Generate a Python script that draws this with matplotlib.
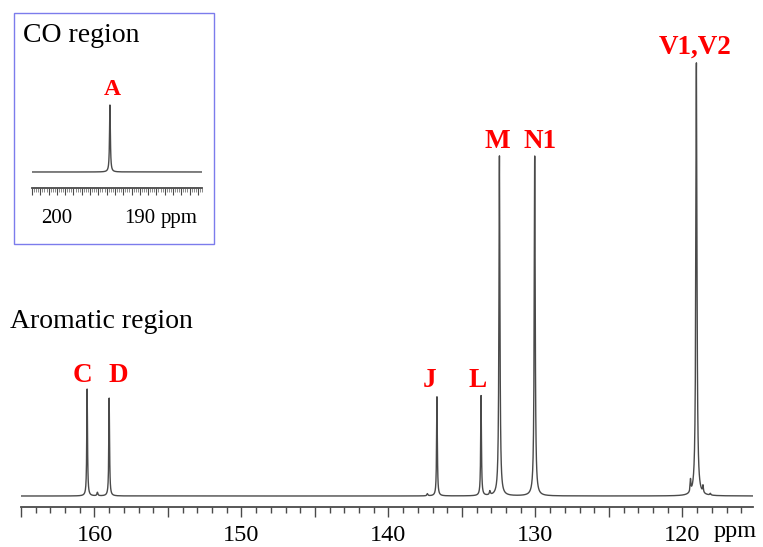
import numpy as np
import matplotlib
matplotlib.use("Agg")
import matplotlib.pyplot as plt
from matplotlib.ticker import MultipleLocator, FuncFormatter
from matplotlib.patches import Rectangle
import matplotlib.transforms as mtransforms

# --- aromatic region peaks (ppm, relative intensity, half width at half max in ppm)
arom_labels = ["C", "D", "J", "L", "M", "N1", "V1,V2"]
arom_shift = [160.5, 159.0, 136.7, 133.7, 132.45, 130.05, 119.05]
arom_height = [24.7, 22.6, 22.9, 23.1, 78.5, 78.5, 100.0]
arom_hwhm = [0.03, 0.03, 0.03, 0.03, 0.04, 0.04, 0.045]

# weaker unlabelled lines in the aromatic region
minor_shift = [159.8, 137.35, 133.1, 119.45, 118.6, 118.1]
minor_height = [0.8, 0.5, 0.9, 2.8, 1.6, 0.4]
minor_hwhm = [0.04, 0.04, 0.04, 0.03, 0.03, 0.04]

# --- carbonyl region
co_labels = ["A"]
co_shift = [193.6]
co_height = [100.0]
co_hwhm = [0.06]


def lorentz_sum(x, centers, heights, widths):
    y = np.zeros_like(x)
    for c, h, w in zip(centers, heights, widths):
        y += h / (1.0 + ((x - c) / w) ** 2)
    return y


LINE = "#4a4a4a"
RED = "#ff0000"
SERIF = ["Liberation Serif", "DejaVu Serif"]

fig = plt.figure(figsize=(7.63, 5.47), dpi=100)
W, H = 763, 547


def px_axes(x0, x1, ytop, ybot):
    return fig.add_axes([x0 / W, 1 - ybot / H, (x1 - x0) / W, (ybot - ytop) / H])


# ---------------- main spectrum ----------------
ax = px_axes(21, 753, 40, 507)
x_main = np.linspace(115.2, 165.0, 40000)
y_main = (lorentz_sum(x_main, arom_shift, arom_height, arom_hwhm)
          + lorentz_sum(x_main, minor_shift, minor_height, minor_hwhm))
ax.plot(x_main, y_main, color=LINE, lw=1.0)
ax.set_xlim(165.0, 115.2)
ax.set_ylim(-2.54, 105.3)

for s in ["top", "left", "right"]:
    ax.spines[s].set_visible(False)
ax.spines["bottom"].set_color(LINE)
ax.spines["bottom"].set_linewidth(1.3)
ax.set_yticks([])
ax.xaxis.set_major_locator(MultipleLocator(5))
ax.xaxis.set_minor_locator(MultipleLocator(1))
ax.xaxis.set_major_formatter(
    FuncFormatter(lambda v, p: f"{v:.0f}" if abs(v % 10) < 1e-6 else ""))
ax.tick_params(axis="x", which="major", length=7, width=1.0, color=LINE,
               pad=6, labelsize=17.5)
ax.tick_params(axis="x", which="minor", length=4, width=1.0, color=LINE)
for t in ax.get_xticklabels():
    t.set_fontfamily(SERIF)
ax.patch.set_alpha(0)

trans = mtransforms.blended_transform_factory(ax.transData, fig.transFigure)
fig.text(116.4, 1 - 531 / H, "ppm", transform=trans, ha="center", va="center",
         fontsize=17.5, family=SERIF)

label_offsets = [(-5, 14), (9, 23), (-7, 16), (-4, 15), (-2, 15), (5, 15), (-1, 16)]
for lab, s, h, off in zip(arom_labels, arom_shift, arom_height, label_offsets):
    ax.annotate(lab, xy=(s, h), xytext=off, textcoords="offset pixels",
                ha="center", va="center", color=RED, fontsize=19.5,
                fontweight="bold", family=SERIF)

fig.text(10 / W, 1 - 322 / H, "Aromatic region", ha="left", va="center",
         fontsize=20, family=SERIF)

# ---------------- carbonyl inset ----------------
fig.patches.append(Rectangle((14 / W, 1 - 244 / H), 200 / W, 231 / H,
                             transform=fig.transFigure, fill=False,
                             edgecolor="#7c7cec", lw=1.0))
fig.text(23 / W, 1 - 36 / H, "CO region", ha="left", va="center",
         fontsize=20, family=SERIF)

axi = px_axes(32, 202, 80, 188)
x_co = np.linspace(182.5, 203.0, 20000)
y_co = lorentz_sum(x_co, co_shift, co_height, co_hwhm)
axi.plot(x_co, y_co, color=LINE, lw=1.0)
axi.set_xlim(203.0, 182.5)
axi.set_ylim(-23.9, 137.3)
for s in ["top", "left", "right"]:
    axi.spines[s].set_visible(False)
axi.spines["bottom"].set_color(LINE)
axi.spines["bottom"].set_linewidth(1.3)
axi.set_yticks([])
axi.xaxis.set_major_locator(MultipleLocator(1))
axi.xaxis.set_minor_locator(MultipleLocator(0.25))
axi.xaxis.set_major_formatter(FuncFormatter(lambda v, p: ""))
axi.tick_params(axis="x", which="major", length=5, width=0.8, color=LINE)
axi.tick_params(axis="x", which="minor", length=3, width=0.6, color="#777777")
axi.patch.set_alpha(0)

for lab, s, h in zip(co_labels, co_shift, co_height):
    axi.annotate(lab, xy=(s, h), xytext=(2, 15), textcoords="offset pixels",
                 ha="center", va="center", color=RED, fontsize=17,
                 fontweight="bold", family=SERIF)

trans_i = mtransforms.blended_transform_factory(axi.transData, fig.transFigure)
fig.text(200, 1 - 218 / H, "200", transform=trans_i, ha="center", va="center",
         fontsize=15, family=SERIF)
fig.text(190, 1 - 218 / H, "190", transform=trans_i, ha="center", va="center",
         fontsize=15, family=SERIF)
fig.text(185.2, 1 - 218 / H, "ppm", transform=trans_i, ha="center", va="center",
         fontsize=15, family=SERIF)

fig.savefig("out.png", dpi=100)
